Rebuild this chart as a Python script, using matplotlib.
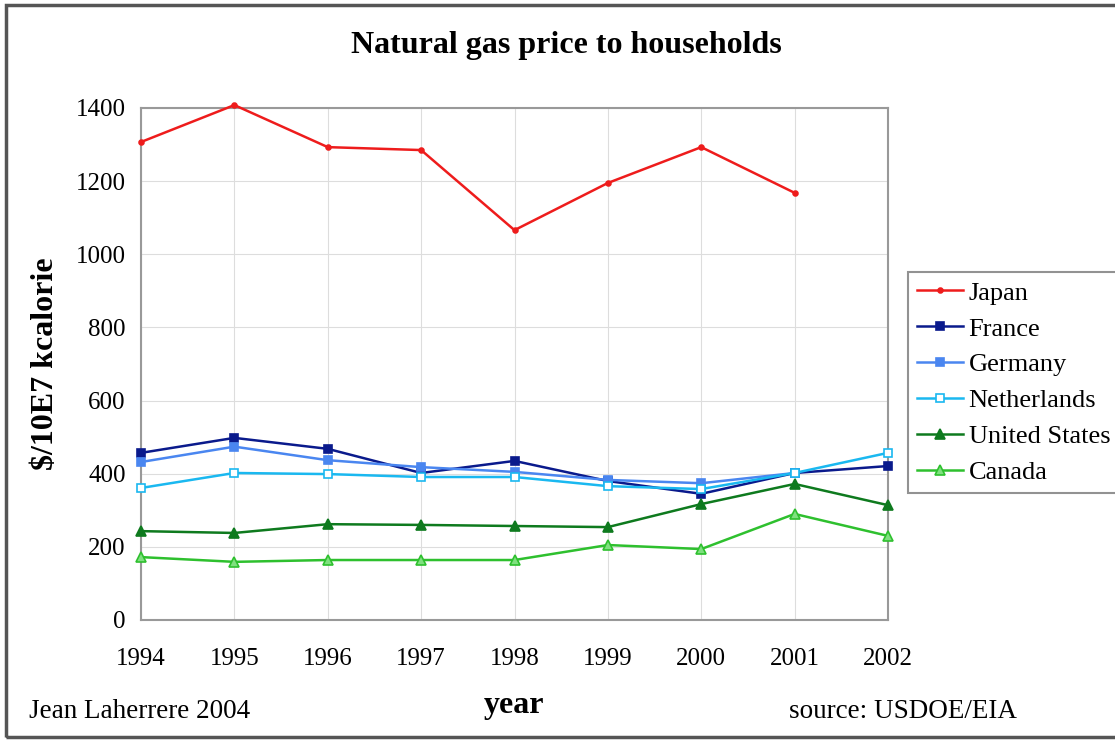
import matplotlib
matplotlib.use("Agg")
import matplotlib.pyplot as plt
from matplotlib.patches import Rectangle
import numpy as np

years = [1994, 1995, 1996, 1997, 1998, 1999, 2000, 2001, 2002]
japan = [1307, 1408, 1293, 1285, 1066, 1195, 1293, 1168, np.nan]
france = [457, 498, 468, 402, 435, 380, 345, 402, 421]
germany = [432, 474, 437, 418, 405, 383, 374, 402, np.nan]
netherlands = [361, 402, 399, 391, 391, 366, 358, 402, 457]
united_states = [243, 238, 262, 260, 257, 254, 317, 372, 314]
canada = [172, 159, 164, 164, 164, 205, 194, 290, 230]
y_ticks = [0, 200, 400, 600, 800, 1000, 1200, 1400]

plt.rcParams['font.family'] = ['Liberation Serif', 'DejaVu Serif']

fig = plt.figure(figsize=(11.15, 7.4), dpi=100)
ax = fig.add_axes([141/1115, 1-620/740, (888-141)/1115, (620-108)/740])

series = [
    ("Japan", japan, "#ee1c1c", "o", 3.5, "#ee1c1c"),
    ("France", france, "#0a1a8c", "s", 6, "#0a1a8c"),
    ("Germany", germany, "#4a86f0", "s", 6, "#4a86f0"),
    ("Netherlands", netherlands, "#1ab8f0", "s", 5.5, "white"),
    ("United States", united_states, "#0e7a1e", "^", 6.5, "#0e7a1e"),
    ("Canada", canada, "#2ec02e", "^", 6.5, "#7fe07f"),
]
for name, vals, col, mk, ms, mfc in series:
    ax.plot(years, vals, color=col, lw=1.8, marker=mk, ms=ms,
            mfc=mfc, mec=col, mew=1.2, label=name, clip_on=False, zorder=3)

ax.set_xlim(1994, 2002)
ax.set_ylim(0, 1400)
ax.set_xticks(years)
ax.set_yticks(y_ticks)
ax.grid(True, color="#dddddd", lw=0.8)
ax.set_axisbelow(True)
for s in ax.spines.values():
    s.set_color("#999999")
    s.set_linewidth(1.5)
ax.tick_params(axis='both', length=0, labelsize=18)
ax.tick_params(axis='y', pad=11)
ax.tick_params(axis='x', pad=20)

ax.set_ylabel("$/10E7 kcalorie", fontsize=23, fontweight='bold', labelpad=11)
fig.text(514/1115, 1-705/740, "year", fontsize=23, fontweight='bold',
         ha='center', va='center')
fig.text(566/1115, 1-45/740, "Natural gas price to households", fontsize=23,
         fontweight='bold', ha='center', va='center')
fig.text(29/1115, 1-711/740, "Jean Laherrere 2004", fontsize=19.5,
         ha='left', va='center')
fig.text(789/1115, 1-711/740, "source: USDOE/EIA", fontsize=19.5,
         ha='left', va='center')

leg = fig.legend(loc='upper left', bbox_to_anchor=(908/1115, 1-272/740),
                 fontsize=19, frameon=True, fancybox=False, handlelength=1.75,
                 handletextpad=0.2, borderpad=0.35, labelspacing=0.47,
                 borderaxespad=0)
leg.get_frame().set_edgecolor("#777777")
leg.get_frame().set_linewidth(1.5)

fig.patches.append(Rectangle((6/1115, 3/740), 1.2, 1-8/740,
                             transform=fig.transFigure, fill=False,
                             edgecolor="#555555", lw=2.5, zorder=-1))

fig.savefig("out.png", dpi=100)
